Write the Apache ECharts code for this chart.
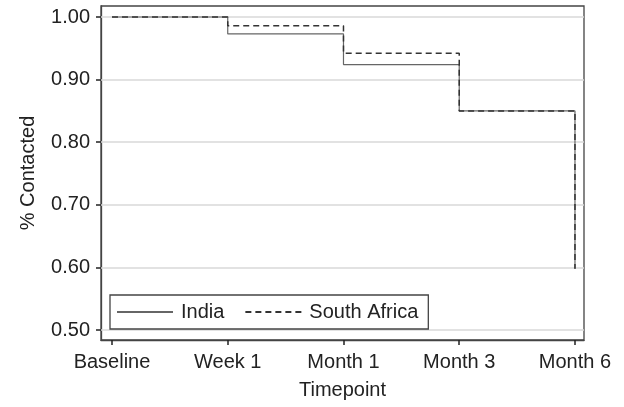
<!DOCTYPE html>
<html>
<head>
<meta charset="utf-8">
<script src="https://cdn.jsdelivr.net/npm/echarts@6/dist/echarts.min.js"></script>
<style>html,body{margin:0;padding:0;background:#fff}#c{width:624px;height:407px}</style>
</head>
<body>
<div id="c"></div>
<script>
var categories = ['Baseline', 'Week 1', 'Month 1', 'Month 3', 'Month 6'];
var india = [1.00, 0.973, 0.924, 0.850, 0.598];
var southAfrica = [1.00, 0.986, 0.942, 0.850, 0.598];
var yTicks = [0.5, 0.6, 0.7, 0.8, 0.9, 1.0];

function pts(arr) { return arr.map(function (v, i) { return [i, v]; }); }

var font = 'Liberation Sans, Arial, sans-serif';
var chart = echarts.init(document.getElementById('c'), null, {renderer: 'canvas'});
chart.setOption({
  animation: false,
  backgroundColor: '#fff',
  grid: {left: 101, right: 40, top: 6, bottom: 67, show: true, borderColor: '#444', borderWidth: 1.3, backgroundColor: 'transparent'},
  xAxis: {
    type: 'value', min: -0.095, max: 4.078,
    name: 'Timepoint', nameLocation: 'middle', nameGap: 40,
    nameTextStyle: {fontFamily: font, fontSize: 20, color: '#222'},
    axisLine: {show: true, onZero: false, lineStyle: {color: '#444', width: 1.3}},
    axisTick: {show: true, length: 5, customValues: [0, 1, 2, 3, 4], lineStyle: {color: '#222', width: 1.5}},
    axisLabel: {customValues: [0, 1, 2, 3, 4], margin: 12, fontFamily: font, fontSize: 20, color: '#222',
      formatter: function (v) { return categories[Math.round(v)]; }},
    splitLine: {show: false}
  },
  yAxis: {
    type: 'value', min: 0.484, max: 1.0176,
    name: '% Contacted', nameLocation: 'middle', nameGap: 63,
    nameTextStyle: {fontFamily: font, fontSize: 20, color: '#222'},
    axisLine: {show: true, onZero: false, lineStyle: {color: '#444', width: 1.3}},
    axisTick: {show: true, length: 5, customValues: yTicks, lineStyle: {color: '#222', width: 1.5}},
    axisLabel: {customValues: yTicks, margin: 11, fontFamily: font, fontSize: 20, color: '#222',
      formatter: function (v) { return v.toFixed(2); }},
    splitLine: {show: false}
  },
  legend: {
    left: 110, top: 295, padding: [7, 10, 7, 6], itemGap: 20,
    borderColor: '#444', borderWidth: 1.3, backgroundColor: '#fff',
    itemWidth: 56, itemHeight: 22,
    itemStyle: {opacity: 0},
    textStyle: {fontFamily: font, fontSize: 20, color: '#222', padding: [0, 0, 0, 3]},
    data: ['India', 'South Africa']
  },
  series: [
    {
      name: 'India', type: 'line', step: 'end', symbol: 'none', z: 3,
      data: pts(india),
      lineStyle: {color: '#666', width: 1.2, type: 'solid'},
      itemStyle: {color: '#666'},
      markLine: {
        silent: true, symbol: 'none', label: {show: false}, z: 1,
        lineStyle: {color: '#d9d9d9', width: 1.5, type: 'solid'},
        data: yTicks.map(function (v) { return {yAxis: v}; })
      }
    },
    {
      name: 'South Africa', type: 'line', step: 'end', symbol: 'none', z: 4,
      data: pts(southAfrica),
      lineStyle: {color: '#333', width: 1.5, type: [6, 4]},
      itemStyle: {color: '#333'}
    }
  ]
});
</script>
</body>
</html>
